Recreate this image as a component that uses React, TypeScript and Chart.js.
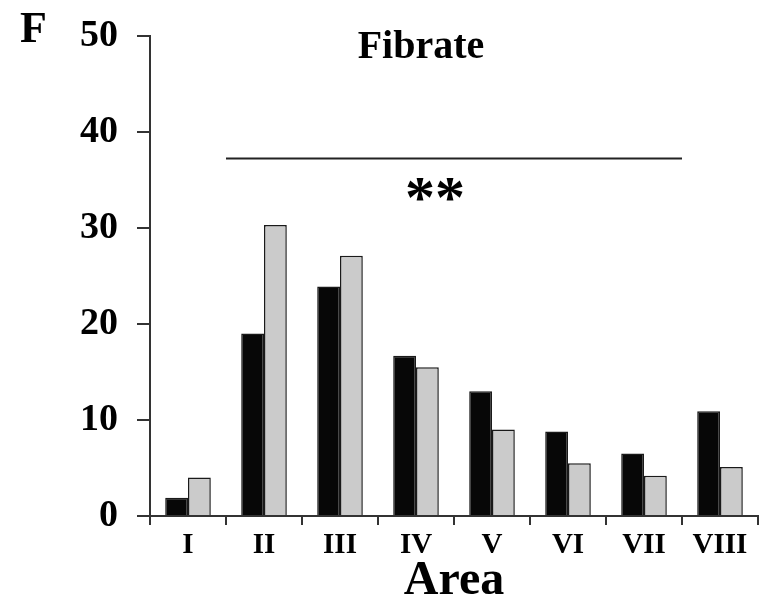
import React, { useEffect, useRef } from "react";
import { Chart, registerables } from "chart.js";

Chart.register(...registerables);

const categories = ["I", "II", "III", "IV", "V", "VI", "VII", "VIII"];
const seriesBlack = [1.9, 19.0, 23.9, 16.7, 13.0, 8.8, 6.5, 10.9];
const seriesGray = [4.0, 30.3, 27.1, 15.5, 9.0, 5.5, 4.2, 5.1];
const yTicks = [0, 10, 20, 30, 40, 50];
const panelLetter = "F";
const panelTitle = "Fibrate";
const xTitle = "Area";
// significance bracket: from left edge of category index sigFrom to right edge of sigTo
const sigFrom = 1;
const sigTo = 6;
const sigLineValue = 37.3;
const sigLabel = "**";
const sigLabelCat = 3.25;
const sigLabelValue = 33.6;

const FONT = "'Liberation Serif', 'Times New Roman', serif";

const overlayPlugin = {
  id: "overlay",
  afterDraw(chart: any) {
    const { ctx, scales } = chart;
    const x = scales.x;
    const y = scales.y;
    const half = (x.getPixelForValue(1) - x.getPixelForValue(0)) / 2;
    ctx.save();
    ctx.fillStyle = "#000";
    ctx.font = `bold 44px ${FONT}`;
    ctx.textAlign = "left";
    ctx.textBaseline = "alphabetic";
    ctx.fillText(panelLetter, 20, 42);
    ctx.font = `bold 40px ${FONT}`;
    ctx.textAlign = "center";
    ctx.fillText(panelTitle, 421, 58);
    const x0 = x.getPixelForValue(sigFrom) - half;
    const x1 = x.getPixelForValue(sigTo) + half;
    const yl = Math.round(y.getPixelForValue(sigLineValue)) + 0.5;
    ctx.strokeStyle = "#222";
    ctx.lineWidth = 2;
    ctx.beginPath();
    ctx.moveTo(x0, yl);
    ctx.lineTo(x1, yl);
    ctx.stroke();
    ctx.font = `bold 60px ${FONT}`;
    ctx.textBaseline = "middle";
    ctx.fillText(sigLabel, x.getPixelForValue(sigLabelCat), y.getPixelForValue(sigLabelValue) + 8);
    ctx.restore();
  },
};

export default function App() {
  const ref = useRef<HTMLCanvasElement | null>(null);
  useEffect(() => {
    if (!ref.current) return;
    const chart = new Chart(ref.current, {
      type: "bar",
      data: {
        labels: categories,
        datasets: [
          {
            data: seriesBlack,
            backgroundColor: "#070707",
            borderColor: "#1a1a1a",
            borderWidth: 1.5,
            categoryPercentage: 0.6,
            barPercentage: 1.0,
          },
          {
            data: seriesGray,
            backgroundColor: "#cbcbcb",
            borderColor: "#1a1a1a",
            borderWidth: 1.5,
            categoryPercentage: 0.6,
            barPercentage: 1.0,
          },
        ],
      },
      options: {
        animation: false,
        responsive: true,
        maintainAspectRatio: false,
        layout: { padding: { left: 0, right: 7, top: 36, bottom: 0 } },
        plugins: {
          legend: { display: false },
          tooltip: { enabled: false },
          title: { display: false },
        },
        scales: {
          x: {
            grid: {
              offset: true,
              drawOnChartArea: false,
              drawTicks: true,
              tickLength: 9,
              tickColor: "#333",
              lineWidth: 2,
            },
            border: { display: true, color: "#333", width: 2 },
            ticks: {
              color: "#000",
              font: { family: FONT, weight: "bold", size: 29 },
              padding: 3,
              maxRotation: 0,
              autoSkip: false,
            },
            title: {
              display: true,
              text: xTitle,
              color: "#000",
              font: { family: FONT, weight: "bold", size: 48, lineHeight: 1.0 },
              padding: { top: 0, bottom: 0 },
            },
            afterFit(scale: any) {
              scale.height = 90;
              scale.paddingLeft = 0;
              scale.paddingRight = 0;
            },
          },
          y: {
            min: 0,
            max: 50,
            afterBuildTicks(scale: any) {
              scale.ticks = yTicks.map((v) => ({ value: v }));
            },
            grid: {
              drawOnChartArea: false,
              drawTicks: true,
              tickLength: 13,
              tickColor: "#333",
              lineWidth: 2,
            },
            border: { display: true, color: "#333", width: 2 },
            ticks: {
              color: "#000",
              font: { family: FONT, weight: "bold", size: 38 },
              padding: 19,
            },
            afterFit(scale: any) {
              scale.width = 150;
              scale.paddingTop = 0;
              scale.paddingBottom = 0;
            },
          },
        },
      },
      plugins: [overlayPlugin],
    });
    return () => chart.destroy();
  }, []);
  return (
    <div style={{ position: "fixed", left: 0, top: 0, width: 765, height: 606, background: "#fff" }}>
      <canvas ref={ref} />
    </div>
  );
}
